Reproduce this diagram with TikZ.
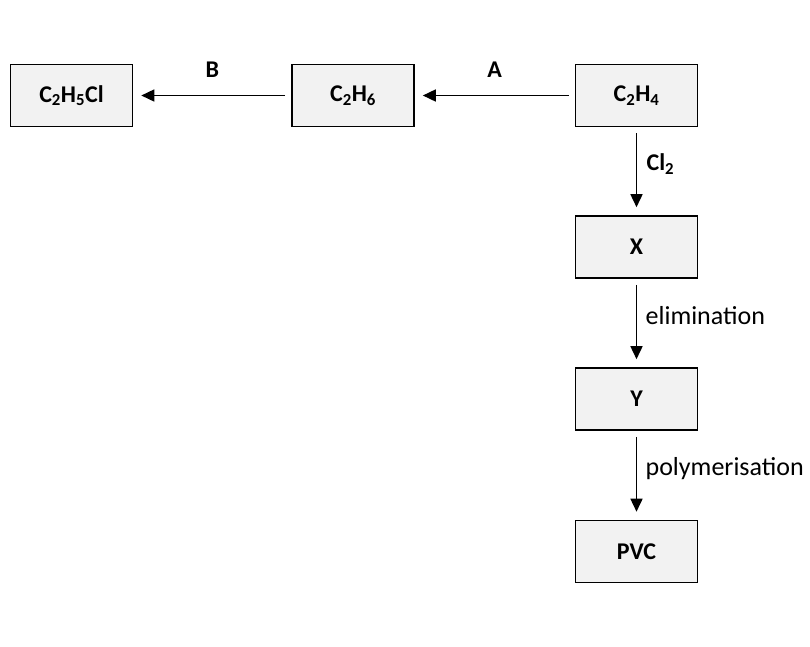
\documentclass[tikz,border=0pt]{standalone}
\usepackage{fontspec}
\setmainfont{Carlito}
\usetikzlibrary{arrows.meta}
\definecolor{boxgray}{HTML}{F2F2F2}
\tikzset{
	chem/.style={draw,line width=1.6pt,fill=boxgray,minimum width=122pt,minimum height=62pt,
		inner sep=0pt,font=\fontsize{24}{28}\selectfont\bfseries},
	react/.style={line width=1.6pt,-{Triangle[width=12pt,length=13pt]},shorten <=6pt,shorten >=8pt},
	cond/.style={font=\fontsize{26}{30}\selectfont},
	condb/.style={font=\fontsize{24}{28}\selectfont\bfseries},
}
\begin{document}
\begin{tikzpicture}[x=1pt,y=-1pt]
		\useasboundingbox (0,0) rectangle (810,646);
		\node[chem] (ethyl) at (71.5,95.5) {C\textsubscript{2}H\textsubscript{5}Cl};
		\node[chem] (ethane) at (353,95.5) {C\textsubscript{2}H\textsubscript{6}};
		\node[chem] (ethene) at (636.5,95.5) {C\textsubscript{2}H\textsubscript{4}};
		\node[chem] (x) at (636.5,247) {X};
		\node[chem] (y) at (636.5,399) {Y};
		\node[chem] (pvc) at (636.5,551.5) {PVC};
		\draw[react] (ethene) -- node[condb,above=14pt] {A} (ethane);
		\draw[react] (ethane) -- node[condb,above=14pt] {B} (ethyl);
		\draw[react] (ethene) -- node[condb,pos=.42,right=6pt] {Cl\textsubscript{2}} (x);
		\draw[react] (x) -- node[cond,pos=.42,right=5pt] {elimination} (y);
		\draw[react] (y) -- node[cond,pos=.42,right=5pt] {polymerisation} (pvc);
	\end{tikzpicture}
\end{document}
